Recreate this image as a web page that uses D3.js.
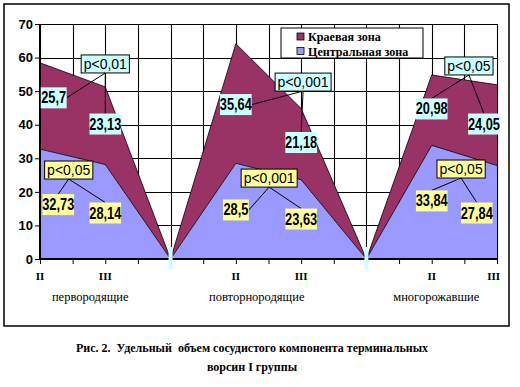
<!DOCTYPE html>
<html>
<head>
<meta charset="utf-8">
<script src="https://cdn.jsdelivr.net/npm/d3@7"></script>
<style>
    body { margin: 0; background: #fff; }
    svg { display: block; }
</style>
</head>
<body>
<div class="chart"></div>
<script>
// values
var categories = ["II", "III", "", "II", "III", "", "II", "III"];
var edgeZone = [25.7, 23.13, 0, 35.64, 21.18, 0, 20.98, 24.05];
var centralZone = [32.73, 28.14, 0, 28.5, 23.63, 0, 33.84, 27.84];
var groups = ["первородящие", "повторнородящие", "многорожавшие"];
var edgeP = ["p<0,01", "p<0,001", "p<0,05"];
var centralP = ["p<0,05", "p<0,001", "p<0,05"];
var yTicks = [0, 10, 20, 30, 40, 50, 60, 70];
var seriesNames = ["Краевая зона", "Центральная зона"];
var caption = ["Рис. 2.  Удельный  объем сосудистого компонента терминальных", "ворсин I группы"];

// where the labels sit, in axis units [category index, value]
var edgeLabelAt = [[0.21, 48], [1, 40.2], null, [3, 46], [4, 34.7], null, [6, 44.7], [6.8, 40.2]];
var centralLabelAt = [[0.28, 16.2], [1, 13.7], null, [3, 14.6], [4, 11.9], null, [6, 17.3], [6.69, 13.7]];
var edgePAt = [[1, 58.1], [4.03, 52.7], [6.57, 57.5]];
var centralPAt = [[0.44, 26.5], [3.51, 24.1], [6.45, 26.8]];
// side of the value box that the leader line meets
var edgeLeader = ["r", "t", null, "r", "t", null, "t", "t"];
var centralLeader = ["t", "t", null, "r", "t", null, "t", "t"];
var groupLabelAt = [0.77, 3.32, 6.07];

var colors = { edge: "#993366", central: "#9999FF", cyan: "#CCFFFF", yellow: "#FFFF99" };
var serif = "'Liberation Serif', 'Times New Roman', serif";
var sans = "Arial, 'Liberation Sans', sans-serif";

var svg = d3.select(".chart").append("svg")
    .attr("width", 520)
    .attr("height", 387);

svg.append("rect").attr("width", 520).attr("height", 387).attr("fill", "#fff");

// outer frame
svg.append("rect")
    .attr("x", 4).attr("y", 4)
    .attr("width", 505).attr("height", 322)
    .attr("fill", "none")
    .attr("stroke", "#000")
    .attr("stroke-width", 1.5);

var x = d3.scaleLinear().domain([0, categories.length - 1]).range([40, 497]);
var y = d3.scaleLinear().domain([0, 70]).range([259, 24]);
var halfSteps = d3.range(0, categories.length - 0.99, 0.5);

// squash text horizontally like the original
function squeeze(sel, k) {
    sel.each(function () {
        if (k === 1) return;
        var w = this.getComputedTextLength();
        d3.select(this).attr("textLength", w * k).attr("lengthAdjust", "spacingAndGlyphs");
    });
}

// gridlines as one path
var gridPath = d3.path();
halfSteps.forEach(function (d) {
    var gx0 = Math.round(x(d)) + 0.5;
    gridPath.moveTo(gx0, y(70));
    gridPath.lineTo(gx0, y(0));
});
yTicks.forEach(function (d) {
    var gy0 = Math.round(y(d)) + 0.5;
    gridPath.moveTo(x(0), gy0);
    gridPath.lineTo(x(categories.length - 1), gy0);
});
svg.append("path")
    .attr("d", gridPath.toString())
    .attr("fill", "none")
    .attr("stroke", "#000")
    .attr("stroke-width", 1.1);

// stacked areas
var rows = categories.map(function (c, i) {
    return { central: centralZone[i], edge: edgeZone[i] };
});
var stacked = d3.stack().keys(["central", "edge"])(rows);

var area = d3.area()
    .x((d, i) => x(i))
    .y0(d => y(d[0]))
    .y1(d => y(d[1]));
var topLine = d3.line()
    .x((d, i) => x(i))
    .y(d => y(d[1]));

svg.append("g").selectAll("path")
    .data(stacked)
    .enter().append("path")
    .attr("d", area)
    .attr("fill", d => colors[d.key]);

svg.append("g").selectAll("path")
    .data(stacked)
    .enter().append("path")
    .attr("d", topLine)
    .attr("fill", "none")
    .attr("stroke", "#000")
    .attr("stroke-width", 0.8);

// axes
var yAxis = d3.axisLeft(y).tickValues(yTicks).tickSize(5).tickFormat(d3.format("d"));
var gy = svg.append("g").attr("transform", "translate(" + x(0) + ",0)").call(yAxis);
gy.select(".domain").attr("stroke-width", 2).attr("d", "M0," + y(70) + "V" + y(0));
gy.selectAll(".tick line").attr("stroke", "#000");
gy.selectAll(".tick text")
    .attr("x", -7)
    .style("font-family", sans)
    .attr("font-size", 13)
    .attr("font-weight", "bold")
    .attr("fill", "#000");

var xAxis = d3.axisBottom(x).tickValues(halfSteps).tickSize(5).tickFormat("");
var gx = svg.append("g").attr("transform", "translate(0," + y(0) + ")").call(xAxis);
gx.select(".domain").attr("stroke-width", 2).attr("d", "M" + x(0) + ",0H" + x(categories.length - 1));
gx.selectAll(".tick line").attr("stroke", "#000");

// empty label boxes at the zero points
svg.append("g").selectAll("rect")
    .data(categories.map((c, i) => i).filter(i => edgeZone[i] === 0))
    .enter().append("rect")
    .attr("x", d => x(d) - 2)
    .attr("y", y(0) - 12)
    .attr("width", 4)
    .attr("height", 22)
    .attr("fill", colors.cyan);

// value labels and p-value callouts
var labels = svg.append("g");

function boxAround(cx, cy, text, opts) {
    var g = labels.append("g");
    var rect = g.append("rect");
    var t = g.append("text")
        .attr("x", cx).attr("y", cy)
        .attr("text-anchor", "middle")
        .attr("dominant-baseline", "central")
        .style("font-family", sans)
        .attr("font-size", opts.size)
        .attr("font-weight", opts.weight)
        .attr("fill", "#000")
        .text(text);
    squeeze(t, opts.squeeze);
    var w = t.node().getComputedTextLength();
    if (opts.squeeze !== 1) w = w * opts.squeeze;
    var bw = w + opts.pad * 2, bh = opts.h;
    rect.attr("x", cx - bw / 2).attr("y", cy - bh / 2)
        .attr("width", bw).attr("height", bh)
        .attr("fill", opts.fill)
        .attr("stroke", opts.border ? "#000" : "none")
        .attr("stroke-width", 1);
    return { left: cx - bw / 2, right: cx + bw / 2, top: cy - bh / 2, bottom: cy + bh / 2, cx: cx, cy: cy };
}

function drawSeries(values, labelAt, leaderSide, pTexts, pAt, fill) {
    var leaderG = labels.append("g");
    var boxes = values.map(function (v, i) {
        if (!labelAt[i]) return null;
        return boxAround(x(labelAt[i][0]), y(labelAt[i][1]), String(v).replace(".", ","),
            { size: 16, weight: "bold", squeeze: 0.8, pad: 3, h: 21, fill: fill, border: false });
    });
    pTexts.forEach(function (p, k) {
        var pb = boxAround(x(pAt[k][0]), y(pAt[k][1]), p,
            { size: 14, weight: "normal", squeeze: 1, pad: 2.5, h: 18, fill: fill, border: true });
        [3 * k, 3 * k + 1].forEach(function (i) {
            var b = boxes[i];
            var tx = leaderSide[i] === "r" ? b.right : b.cx;
            var ty = leaderSide[i] === "r" ? b.cy : b.top;
            leaderG.append("line")
                .attr("x1", pb.cx).attr("y1", pb.bottom)
                .attr("x2", tx).attr("y2", ty)
                .attr("stroke", "#000")
                .attr("stroke-width", 1);
        });
    });
}

drawSeries(edgeZone, edgeLabelAt, edgeLeader, edgeP, edgePAt, colors.cyan);
drawSeries(centralZone, centralLabelAt, centralLeader, centralP, centralPAt, colors.yellow);

// category labels
svg.append("g").selectAll("text")
    .data(categories)
    .enter().append("text")
    .attr("x", (d, i) => i === categories.length - 1 ? x(i) + 3 : x(i))
    .attr("y", 280)
    .attr("text-anchor", (d, i) => i === categories.length - 1 ? "end" : "middle")
    .style("font-family", serif)
    .attr("font-size", 11)
    .attr("font-weight", "bold")
    .text(d => d);

svg.append("g").selectAll("text")
    .data(groups)
    .enter().append("text")
    .attr("x", (d, k) => x(groupLabelAt[k]))
    .attr("y", 301)
    .attr("text-anchor", "middle")
    .style("font-family", serif)
    .attr("font-size", 12.5)
    .text(d => d);

// legend
var legend = svg.append("g").attr("transform", "translate(281,28)");
legend.append("rect")
    .attr("width", 142).attr("height", 30)
    .attr("fill", "#fff").attr("stroke", "#000");
var legendItems = legend.selectAll("g")
    .data(seriesNames)
    .enter().append("g")
    .attr("transform", (d, i) => "translate(16," + (5 + i * 14.5) + ")");
legendItems.append("rect")
    .attr("width", 7).attr("height", 7)
    .attr("fill", (d, i) => i === 0 ? colors.edge : colors.central)
    .attr("stroke", "#000").attr("stroke-width", 0.8);
legendItems.append("text")
    .attr("x", 11).attr("y", 8)
    .style("font-family", serif)
    .attr("font-size", 13)
    .attr("font-weight", "bold")
    .text(d => d)
    .call(squeeze, 0.93);

// caption
svg.append("g").selectAll("text")
    .data(caption)
    .enter().append("text")
    .attr("x", 252)
    .attr("y", (d, i) => 352 + i * 19)
    .attr("text-anchor", "middle")
    .style("font-family", serif)
    .attr("font-size", 12)
    .attr("font-weight", "bold")
    .style("white-space", "pre")
    .text(d => d);
</script>
</body>
</html>
